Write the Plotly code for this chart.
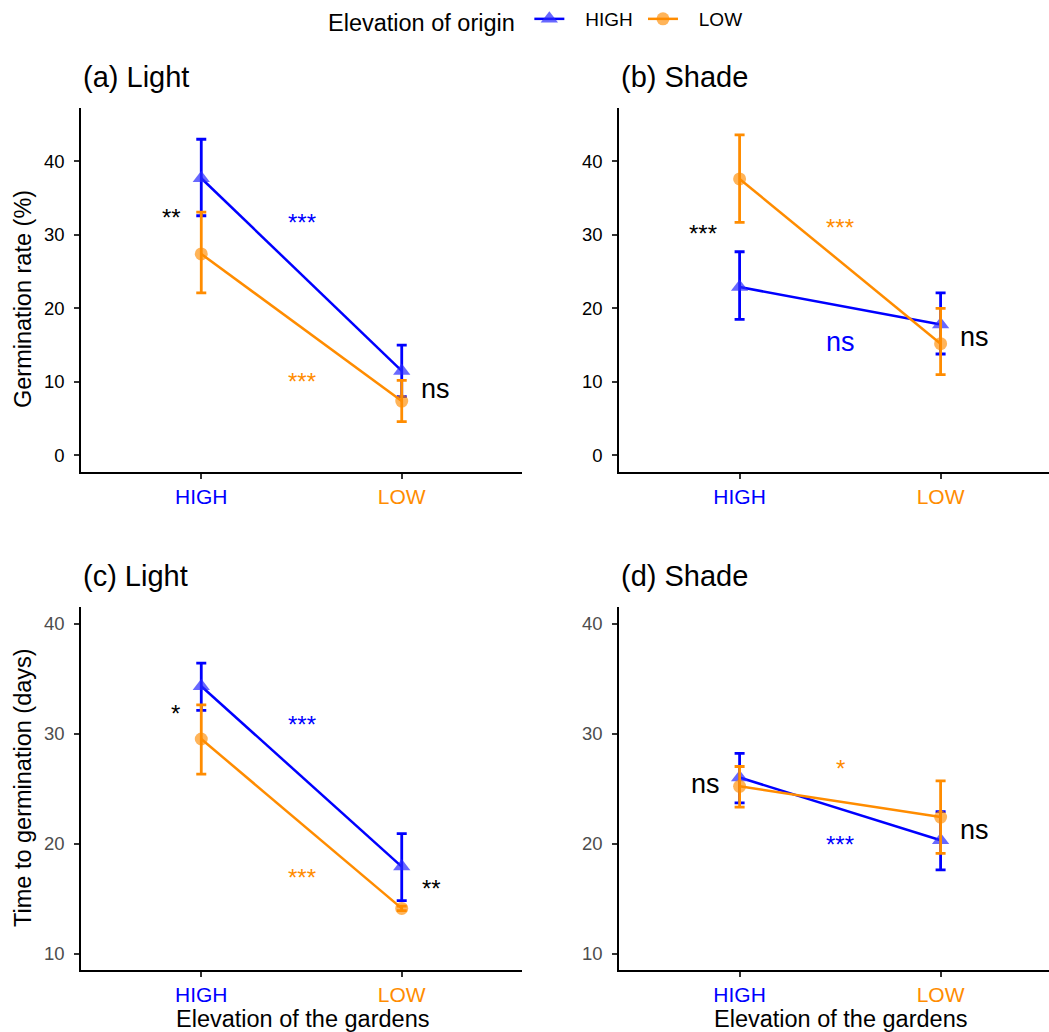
import plotly.graph_objects as go

W, H = 1049, 1032

gardens = ["HIGH", "LOW"]
origins = ["HIGH", "LOW"]
panel_titles = ["(a) Light", "(b) Shade", "(c) Light", "(d) Shade"]

# means and error bars (upper, lower) per panel, origin HIGH / LOW, garden HIGH / LOW
a_high_mean = [37.7, 11.5]
a_high_up = [43.0, 15.0]
a_high_lo = [32.6, 8.0]
a_low_mean = [27.4, 7.4]
a_low_up = [33.1, 10.2]
a_low_lo = [22.1, 4.6]

b_high_mean = [22.9, 17.8]
b_high_up = [27.7, 22.1]
b_high_lo = [18.5, 13.8]
b_low_mean = [37.6, 15.2]
b_low_up = [43.6, 20.0]
b_low_lo = [31.7, 11.0]

c_high_mean = [34.3, 17.9]
c_high_up = [36.4, 20.9]
c_high_lo = [32.1, 14.8]
c_low_mean = [29.5, 14.1]
c_low_up = [32.6, 14.3]
c_low_lo = [26.3, 13.9]

d_high_mean = [26.0, 20.3]
d_high_up = [28.2, 22.9]
d_high_lo = [23.7, 17.6]
d_low_mean = [25.2, 22.4]
d_low_up = [27.0, 25.7]
d_low_lo = [23.3, 19.1]

# annotations: (text, x position between gardens, y value, color)
a_notes = [("**", 0.85, 33.1, "black"), ("***", 1.5, 32.4, "blue"),
           ("***", 1.5, 10.7, "darkorange"), ("ns", 2.17, 9.1, "black")]
b_notes = [("***", 0.82, 30.9, "black"), ("***", 1.5, 31.7, "darkorange"),
           ("ns", 1.5, 15.4, "blue"), ("ns", 2.17, 16.1, "black")]
c_notes = [("*", 0.87, 32.3, "black"), ("***", 1.5, 31.3, "blue"),
           ("***", 1.5, 17.35, "darkorange"), ("**", 2.15, 16.4, "black")]
d_notes = [("ns", 0.83, 25.4, "black"), ("*", 1.5, 27.3, "darkorange"),
           ("***", 1.5, 20.4, "blue"), ("ns", 2.17, 21.2, "black")]

panels = [
    (a_high_mean, a_high_up, a_high_lo, a_low_mean, a_low_up, a_low_lo, a_notes),
    (b_high_mean, b_high_up, b_high_lo, b_low_mean, b_low_up, b_low_lo, b_notes),
    (c_high_mean, c_high_up, c_high_lo, c_low_mean, c_low_up, c_low_lo, c_notes),
    (d_high_mean, d_high_up, d_high_lo, d_low_mean, d_low_up, d_low_lo, d_notes),
]

FONT = "Liberation Sans, Arial, Helvetica, sans-serif"
BLUE = "#0000FF"
ORANGE = "#FF8C00"
NB = "\u00a0"

def px_x(p):
    return p / W

def px_y(p):
    return 1 - p / H

# plot area pixel boxes (left, right, top, bottom)
boxes = [(81, 522, 108, 472), (619, 1049, 108, 472),
         (81, 522, 607, 970), (619, 1049, 607, 970)]
xranges = [[0.4, 2.6], [0.4, 0.4 + 430 / 201], [0.4, 2.6], [0.4, 0.4 + 430 / 201]]
yranges = [[-2.25, 47.25], [-2.25, 47.25], [8.5, 41.5], [8.5, 41.5]]

fig = go.Figure()
xpos = [1, 2]
annotations = []

for i, (hm, hu, hl, lm, lu, ll, notes) in enumerate(panels):
    k = "" if i == 0 else str(i + 1)
    xa, ya = "x" + k, "y" + k
    for name, m, up, lo, col, sym, size, mcol in [
        (origins[0], hm, hu, hl, BLUE, "triangle-up", 15, "rgba(40,40,255,0.7)"),
        (origins[1], lm, lu, ll, ORANGE, "circle", 13, "rgba(255,140,0,0.65)"),
    ]:
        fig.add_trace(go.Scatter(
            x=xpos, y=m, mode="lines+markers", name=NB * 3 + name + NB,
            xaxis=xa, yaxis=ya, showlegend=(i == 0),
            line=dict(color=col, width=2.5),
            marker=dict(symbol=sym, size=size, color=mcol, line=dict(width=0)),
            error_y=dict(type="data", symmetric=False,
                         array=[u - v for u, v in zip(up, m)],
                         arrayminus=[v - l for v, l in zip(m, lo)],
                         color=col, thickness=2.8, width=5),
        ))
    for text, xv, yv, col in notes:
        star = text.startswith("*")
        annotations.append(dict(text=text, x=xv, y=yv, xref=xa, yref=ya,
                                xanchor="center", yanchor="middle",
                                yshift=-5 if star else 0,
                                showarrow=False,
                                font=dict(color=col, size=24 if star else 27, family=FONT)))

    l, r, t, b = boxes[i]
    tickcol = "black" if i < 2 else "#4D4D4D"
    fig.layout["xaxis" + k] = dict(
        domain=[px_x(l), px_x(r)], range=xranges[i], anchor=ya,
        tickvals=[1, 2],
        ticktext=['<span style="color:#0000FF">' + gardens[0] + '</span>',
                  '<span style="color:#FF8C00">' + gardens[1] + '</span>'],
        tickfont=dict(size=21, family=FONT),
        showline=True, linecolor="black", linewidth=1.6, mirror=False,
        ticks="outside", ticklen=5, tickcolor="#333333", tickwidth=1.5,
        showgrid=False, zeroline=False, fixedrange=True, automargin=False,
    )
    fig.layout["yaxis" + k] = dict(
        domain=[px_y(b), px_y(t)], range=yranges[i], anchor=xa,
        tickvals=[0, 10, 20, 30, 40] if i < 2 else [10, 20, 30, 40],
        tickfont=dict(size=18.5, family=FONT, color=tickcol),
        showline=True, linecolor="black", linewidth=1.6,
        ticks="outside", ticklen=5, tickcolor="#333333", tickwidth=1.5,
        ticklabelstandoff=6,
        showgrid=False, zeroline=False, fixedrange=True, automargin=False,
    )
    annotations.append(dict(text=panel_titles[i], x=px_x(l), y=px_y(t - 31),
                            xref="paper", yref="paper", xanchor="left", yanchor="middle",
                            showarrow=False, font=dict(size=29, family=FONT, color="black")))

# axis titles
annotations.append(dict(text="Germination rate (%)", x=px_x(23), y=px_y(299), xref="paper", yref="paper",
                        xanchor="center", yanchor="middle",
                        textangle=-90, showarrow=False, font=dict(size=23.5, family=FONT, color="black")))
annotations.append(dict(text="Time to germination (days)", x=px_x(23), y=px_y(788), xref="paper", yref="paper",
                        xanchor="center", yanchor="middle",
                        textangle=-90, showarrow=False, font=dict(size=23.5, family=FONT, color="black")))
annotations.append(dict(text="Elevation of the gardens", x=px_x(302), y=px_y(1019), xref="paper", yref="paper",
                        xanchor="center", yanchor="middle",
                        showarrow=False, font=dict(size=23.5, family=FONT, color="black")))
annotations.append(dict(text="Elevation of the gardens", x=px_x(840), y=px_y(1019), xref="paper", yref="paper",
                        xanchor="center", yanchor="middle",
                        showarrow=False, font=dict(size=23.5, family=FONT, color="black")))

fig.update_layout(
    width=W, height=H,
    margin=dict(l=0, r=0, t=0, b=0),
    paper_bgcolor="white", plot_bgcolor="white",
    annotations=annotations,
    font=dict(family=FONT, color="black"),
    legend=dict(orientation="h",
                x=px_x(326), xanchor="left", y=1.0, yanchor="top",
                title=dict(text="Elevation of origin ", font=dict(size=23.5, family=FONT)),
                font=dict(size=19, family=FONT), bgcolor="rgba(0,0,0,0)"),
    showlegend=True,
)

fig.write_html("out.html", config={"displayModeBar": False},
               post_script="document.body.style.margin='0';document.body.style.padding='0';")
